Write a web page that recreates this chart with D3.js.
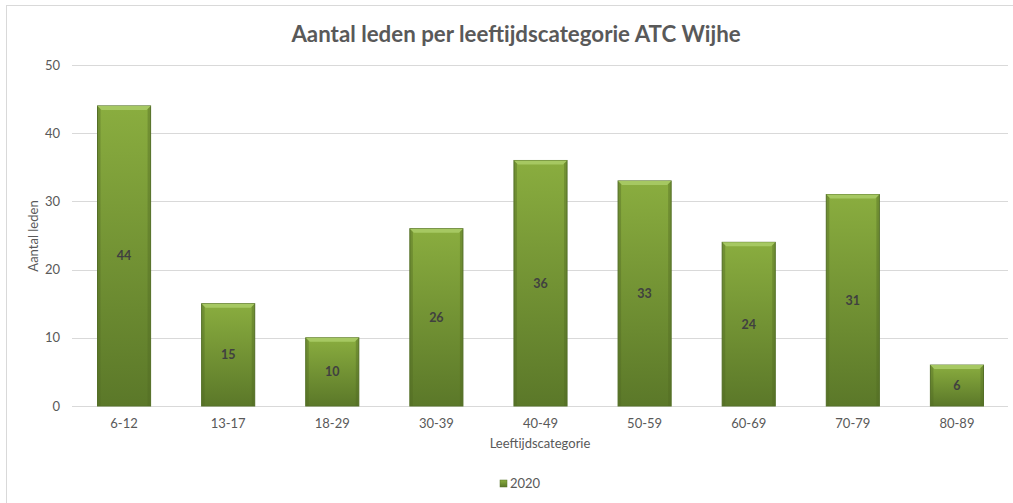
<!DOCTYPE html>
<html>
<head>
<meta charset="utf-8">
<script src="https://cdn.jsdelivr.net/npm/d3@7"></script>
<style>
  body { margin: 0; background: #fff; }
  text { font-family: Lato, "Open Sans", sans-serif; }
</style>
</head>
<body>
<div id="chart"></div>
<script>
var w = 1013, h = 503;

// data
var categories = ["6-12", "13-17", "18-29", "30-39", "40-49", "50-59", "60-69", "70-79", "80-89"];
var values = [44, 15, 10, 26, 36, 33, 24, 31, 6];
var yTicks = [0, 10, 20, 30, 40, 50];
var seriesName = "2020";

var svg = d3.select("#chart").append("svg").attr("width", w).attr("height", h);

// gradient for the bars
var defs = svg.append("defs");
var grad = defs.append("linearGradient").attr("id", "barGrad").attr("x1", 0).attr("y1", 0).attr("x2", 0).attr("y2", 1);
grad.append("stop").attr("offset", "0%").attr("stop-color", "#8aad3f");
grad.append("stop").attr("offset", "100%").attr("stop-color", "#5b7829");

// outer border
svg.append("rect").attr("x", 6.5).attr("y", 5.5).attr("width", w + 20).attr("height", h + 20)
  .attr("fill", "none").attr("stroke", "#d9d9d9");

var x = d3.scaleBand().domain(categories).range([72, 1009]).paddingInner(0.49).paddingOuter(0.245);
var y = d3.scaleLinear().domain([0, 50]).range([406, 65]);

// gridlines
svg.selectAll(".grid").data(yTicks).enter().append("line")
  .attr("x1", 72).attr("x2", 1008)
  .attr("y1", function(d) { return Math.round(y(d)) + 0.5; })
  .attr("y2", function(d) { return Math.round(y(d)) + 0.5; })
  .attr("stroke", "#d9d9d9").attr("stroke-width", 1);

// y tick labels
svg.selectAll(".ylab").data(yTicks).enter().append("text")
  .attr("x", 60).attr("y", function(d) { return y(d) + 4.5; })
  .attr("text-anchor", "end").attr("fill", "#595959").style("font-size", "13px")
  .text(function(d) { return d; });

// bars
var bar = svg.selectAll(".bar").data(values).enter().append("g");
var bw = x.bandwidth();

bar.append("rect")
  .attr("x", function(d, i) { return x(categories[i]); })
  .attr("y", function(d) { return y(d); })
  .attr("width", bw)
  .attr("height", function(d) { return y(0) - y(d); })
  .attr("fill", "url(#barGrad)")
  .attr("stroke", "#56722a").attr("stroke-width", 1);

// side shading
bar.append("rect")
  .attr("x", function(d, i) { return x(categories[i]); })
  .attr("y", function(d) { return y(d); })
  .attr("width", 3)
  .attr("height", function(d) { return y(0) - y(d); })
  .attr("fill", "#4f6a22").attr("opacity", 0.4);
bar.append("rect")
  .attr("x", function(d, i) { return x(categories[i]) + bw - 3; })
  .attr("y", function(d) { return y(d); })
  .attr("width", 3)
  .attr("height", function(d) { return y(0) - y(d); })
  .attr("fill", "#4f6a22").attr("opacity", 0.4);

// top bevel
bar.append("path")
  .attr("d", function(d, i) {
    var x0 = x(categories[i]), y0 = y(d);
    return "M" + x0 + "," + y0 + "L" + (x0 + bw) + "," + y0 +
      "L" + (x0 + bw - 4) + "," + (y0 + 4) + "L" + (x0 + 4) + "," + (y0 + 4) + "Z";
  })
  .attr("fill", "#a6c862");

// value labels
bar.append("text")
  .attr("x", function(d, i) { return x(categories[i]) + bw / 2; })
  .attr("y", function(d) { return (y(d) + y(0)) / 2 + 4.5; })
  .attr("text-anchor", "middle").attr("fill", "#404040")
  .style("font-size", "12.5px").style("font-weight", "bold")
  .text(function(d) { return d; });

// x tick labels
svg.selectAll(".xlab").data(categories).enter().append("text")
  .attr("x", function(d) { return x(d) + bw / 2; })
  .attr("y", 428)
  .attr("text-anchor", "middle").attr("fill", "#595959").style("font-size", "13px")
  .text(function(d) { return d; });

// title
svg.append("text").attr("x", 516).attr("y", 42).attr("text-anchor", "middle")
  .attr("fill", "#595959").style("font-size", "22.3px").style("font-weight", "bold")
  .text("Aantal leden per leeftijdscategorie ATC Wijhe");

// axis titles
svg.append("text").attr("x", 540).attr("y", 448).attr("text-anchor", "middle")
  .attr("fill", "#595959").style("font-size", "13px").text("Leeftijdscategorie");
svg.append("text").attr("transform", "translate(38,236) rotate(-90)").attr("text-anchor", "middle")
  .attr("fill", "#595959").style("font-size", "13px").text("Aantal leden");

// legend
svg.append("rect").attr("x", 500).attr("y", 480).attr("width", 7).attr("height", 7)
  .attr("fill", "url(#barGrad)").attr("stroke", "#56722a").attr("stroke-width", 0.5);
svg.append("text").attr("x", 510).attr("y", 488).attr("fill", "#595959")
  .style("font-size", "13px").text(seriesName);
</script>
</body>
</html>
